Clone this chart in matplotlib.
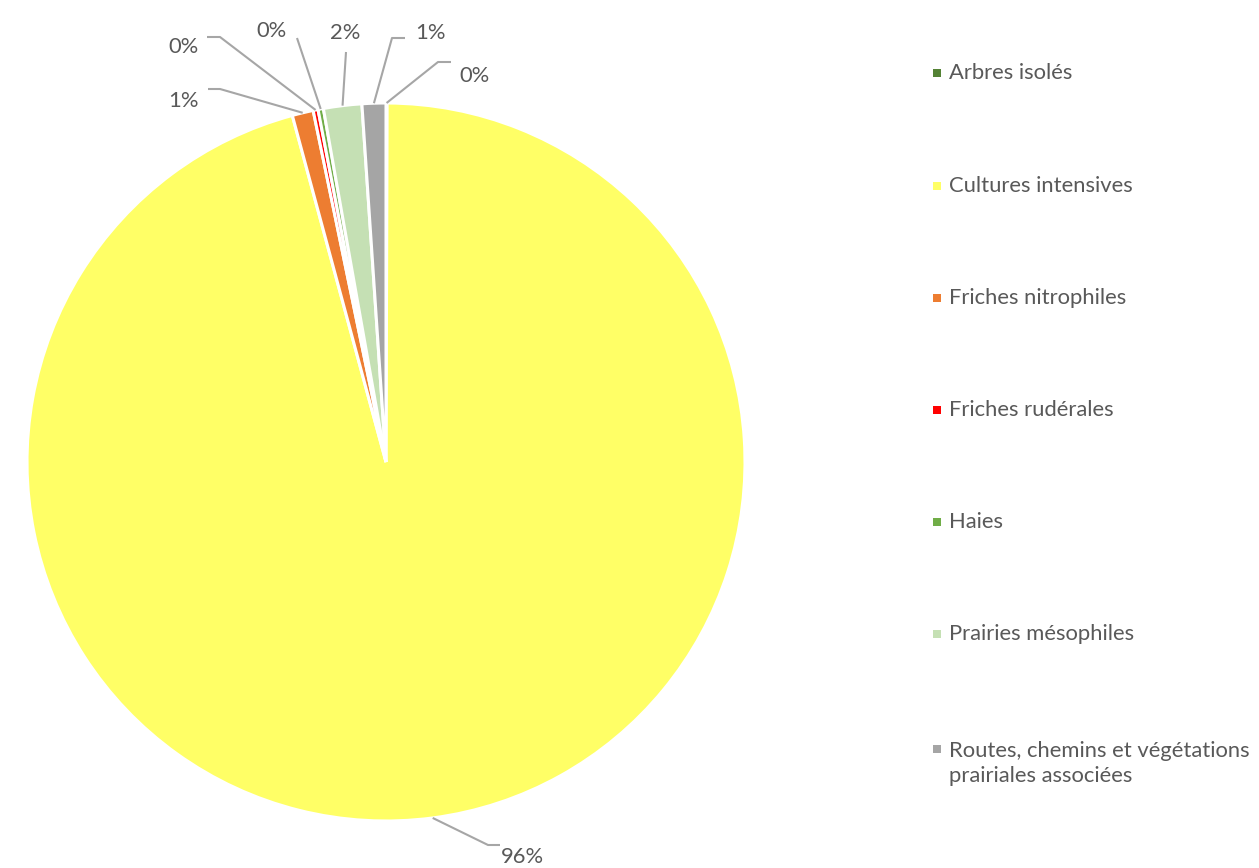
import matplotlib
matplotlib.use("Agg")
import matplotlib.pyplot as plt
import numpy as np
from matplotlib.patches import Rectangle

categories = ["Arbres isolés", "Cultures intensives", "Friches nitrophiles",
              "Friches rudérales", "Haies", "Prairies mésophiles",
              "Routes, chemins et végétations\nprairiales associées"]
values = [0.05, 95.7, 0.95, 0.22, 0.24, 1.72, 1.07]
colors = ["#548235", "#FFFF66", "#ED7D31", "#FF0000", "#70AD47", "#C5E0B4", "#A5A5A5"]

# label layout (pixel positions in the 1259x868 canvas): text center, elbow, horizontal end
label_text_px = [(474, 76), (522, 857), (183, 101), (183, 47), (271, 31), (345, 33), (430, 33)]
label_elbow_px = [(438, 62), (488, 845), (220, 89), (220, 37), (297, 38), (346, 52), (392, 38)]
label_end_px = [(451, 62), (500, 845), (208, 89), (207, 37), (297, 38), (346, 52), (405, 38)]

W, H = 1259, 868
CX, CY, R = 386, 462, 359

plt.rcParams['font.family'] = ['Lato', 'DejaVu Sans']
fig = plt.figure(figsize=(W / 100, H / 100), dpi=100)
ax = fig.add_axes([(CX - R) / W, (H - CY - R) / H, 2 * R / W, 2 * R / H])
wedges, _ = ax.pie(values, colors=colors, startangle=90, counterclock=False,
                   radius=1.0, wedgeprops=dict(edgecolor="white", linewidth=2.2))
ax.set_xlim(-1, 1)
ax.set_ylim(-1, 1)
ax.set_aspect("equal")
ax.axis("off")

def px2d(p):
    return ((p[0] - CX) / R, (CY - p[1]) / R)

total = sum(values)
txtcol = "#595959"
linecol = "#A6A6A6"
for i, w in enumerate(wedges):
    ang = np.deg2rad((w.theta1 + w.theta2) / 2)
    anchor = (1.0 * np.cos(ang), 1.0 * np.sin(ang))
    e = px2d(label_elbow_px[i])
    en = px2d(label_end_px[i])
    ax.plot([anchor[0], e[0], en[0]], [anchor[1], e[1], en[1]], color=linecol,
            lw=1.5, clip_on=False, solid_capstyle="butt")
    t = px2d(label_text_px[i])
    pct = f"{values[i] / total * 100:.0f}%"
    ax.text(t[0], t[1], pct, ha="center", va="center", fontsize=15.8, color=txtcol)

# legend
leg_y = [73, 186, 298, 410, 522, 634, 749]
for i, cat in enumerate(categories):
    y = leg_y[i]
    fig.patches.append(Rectangle(((933) / W, (H - y - 4) / H), 8 / W, 8 / H,
                                 transform=fig.transFigure, facecolor=colors[i],
                                 edgecolor="none"))
    multi = "\n" in cat
    fig.text(949 / W, (H - y + (8 if multi else 0)) / H, cat, ha="left",
             va="top" if multi else "center",
             fontsize=15.8, color=txtcol, linespacing=1.3)

fig.savefig("out.png", dpi=100)
